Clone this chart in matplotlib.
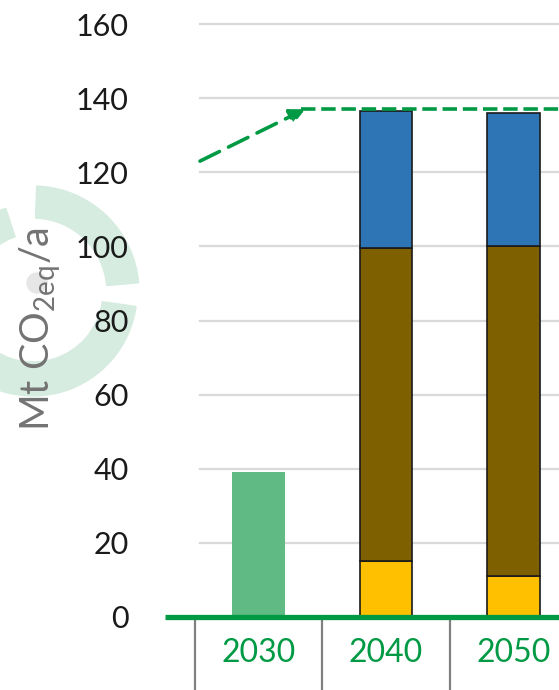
import matplotlib
matplotlib.use("Agg")
import matplotlib.pyplot as plt
from matplotlib.patches import Wedge, Circle

plt.rcParams['font.family'] = ['Lato', 'DejaVu Sans']

# chart values (Mt CO2eq/a)
Years = ["2030", "2040", "2050"]
GreenBar = [39, 0, 0]
YellowPart = [0, 15, 11]
BrownPart = [0, 84.5, 89]
BluePart = [0, 37, 36]
ArrowStart = 123
Target = 137
YTicks = [0, 20, 40, 60, 80, 100, 120, 140, 160]

GREEN = "#009a44"
W, H = 559, 690

fig = plt.figure(figsize=(W / 100, H / 100), dpi=100)

# faint logo behind the axis title
bg = fig.add_axes([0, 0, 1, 1], zorder=0)
bg.set_xlim(0, W)
bg.set_ylim(H, 0)
bg.axis("off")
LogoColor = "#d6ece0"
cx, cy = 33, 292
bg.add_patch(Wedge((cx, cy), 106, 272, 355, width=32, color=LogoColor))
bg.add_patch(Wedge((cx, cy), 104, 8, 140, width=34, color=LogoColor))
bg.add_patch(Wedge((cx, cy), 88, 160, 252, width=30, color=LogoColor))
bg.add_patch(Circle((37, 283), 10, color="#e6e6e6"))

ax = fig.add_axes([165 / W, (H - 617) / H, 1 - 165 / W, (617 - 24) / H], zorder=1)
ax.patch.set_alpha(0)

x = list(range(len(Years)))
Width = 0.415
Px = 127.5
Left = -(258.5 - 165) / Px
Right = (559 - 258.5) / Px
ax.set_xlim(Left, Right)
ax.set_ylim(0, 160)

# gridlines
GridStart = (200 - 258.5) / Px
for t in YTicks[1:]:
    ax.plot([GridStart, Right], [t, t], color="#d9d9d9", lw=1.6, zorder=1, clip_on=False)

ax.bar(x, GreenBar, Width, color="#5fbb83", zorder=2)
EdgeKw = dict(edgecolor="#1a1a1a", linewidth=1.2, zorder=2)
ax.bar(x[1:], YellowPart[1:], Width, color="#ffc000", **EdgeKw)
Bottom2 = [YellowPart[i] for i in x]
ax.bar(x[1:], BrownPart[1:], Width, bottom=Bottom2[1:], color="#7f6000", **EdgeKw)
Bottom3 = [YellowPart[i] + BrownPart[i] for i in x]
ax.bar(x[1:], BluePart[1:], Width, bottom=Bottom3[1:], color="#2e75b6", **EdgeKw)

# target line and arrow
ArrowEnd = (305 - 258.5) / Px
ax.annotate("", xy=(ArrowEnd, Target), xytext=(GridStart, ArrowStart),
            arrowprops=dict(arrowstyle="-|>", color=GREEN, lw=2.6, linestyle=(0, (6, 2.8)),
                            mutation_scale=22, shrinkA=0, shrinkB=0), zorder=4)
ax.plot([ArrowEnd - 0.03, Right], [Target, Target], color=GREEN, lw=2.6,
        linestyle=(0, (4, 1.6)), zorder=4, clip_on=False)

# baseline
ax.plot([Left, Right], [0, 0], color=GREEN, lw=3.8, zorder=5, clip_on=False,
        solid_capstyle="butt")

for s in ax.spines.values():
    s.set_visible(False)

ax.set_yticks(YTicks)
ax.set_yticklabels([str(t) for t in YTicks], fontsize=22, color="#1a1a1a")
ax.tick_params(axis="y", length=0, pad=26)

ax.set_xticks(x)
ax.set_xticklabels(Years, fontsize=23, color=GREEN)
ax.tick_params(axis="x", which="major", length=0, pad=15)
ax.set_xticks([-0.5, 0.5, 1.5], minor=True)
ax.tick_params(axis="x", which="minor", length=55, width=1.6, color="#808080", direction="out")

fig.text(40 / W, 1 - 329 / H, "Mt CO$_\\mathregular{2eq}$/a", rotation=90,
         ha="center", va="center", fontsize=28.5, color="#737373", zorder=3)

fig.savefig("out.png", dpi=100)
